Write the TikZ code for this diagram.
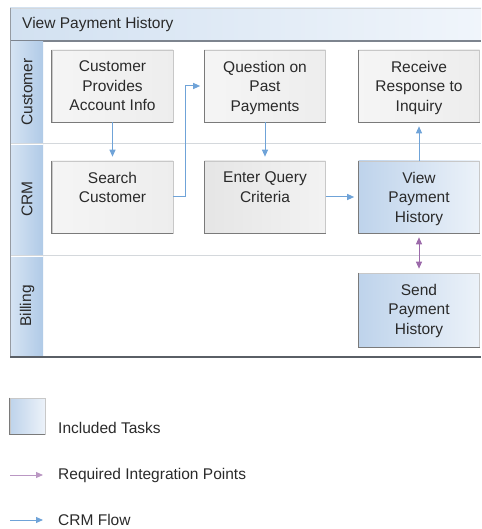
\documentclass[tikz,border=0pt]{standalone}
\usepackage{fontspec}
\setmainfont{Liberation Sans}
\usetikzlibrary{arrows.meta,calc}
\definecolor{flowblue}{HTML}{6FA3D8}
\definecolor{integ}{HTML}{9C6AAA}
\definecolor{edgegray}{HTML}{C8C8C8}
\definecolor{shadowgray}{HTML}{7A7A7A}
\definecolor{lanegray}{HTML}{D4D8DC}
\definecolor{txt}{HTML}{2A2A2A}
\tikzset{
  every node/.style={font=\fontsize{15.5}{19.5}\selectfont, text=txt},
  task/.style={draw=edgegray, line width=0.6pt, minimum width=121pt, minimum height=72pt, inner sep=0pt,
    left color=white!96!black, right color=white!93!black},
  taskdark/.style={task, left color=white!90!black, right color=white!95!black},
  incl/.style={task, left color={rgb,255:red,190;green,211;blue,235}, right color={rgb,255:red,236;green,242;blue,249}},
  tasktext/.style={align=center, inner sep=0pt, anchor=north},
  shadowedge/.style={draw=shadowgray, line width=1.2pt},
  flow/.style={draw=flowblue, line width=1pt, -{Triangle[length=7pt,width=6pt]}},
  integflow/.style={draw=integ, line width=1pt, {Triangle[length=7pt,width=6pt]}-{Triangle[length=7pt,width=6pt]}},
  lanelabel/.style={rotate=90, inner sep=0pt},
  legendtext/.style={anchor=west, inner sep=0pt},
}
\begin{document}
\begin{tikzpicture}[x=1pt,y=-1pt]
\useasboundingbox (0,0) rectangle (481,529);
% title band
\shade[left color={rgb,255:red,210;green,225;blue,241}, right color={rgb,255:red,240;green,245;blue,251}] (10,8) rectangle (481,41);
\draw[draw=lanegray, line width=0.6pt] (10,8) -- (481,8);
\draw[draw={rgb,255:red,125;green,132;blue,142}, line width=1.6pt] (10,41) -- (481,41);
\node[anchor=west, inner sep=0pt] (title) at (22,24.5) {View Payment History};
% lane column
\shade[left color={rgb,255:red,214;green,228;blue,243}, right color={rgb,255:red,176;green,202;blue,231}] (10,42) rectangle (43,357);
% lane separators
\draw[draw=lanegray, line width=0.7pt] (10,143) -- (481,143);
\draw[draw=lanegray, line width=0.7pt] (10,255) -- (481,255);
\draw[draw=white, line width=1pt] (10,144.2) -- (43,144.2);
\draw[draw=white, line width=1pt] (10,256.2) -- (43,256.2);
% frame
\draw[draw={rgb,255:red,150;green,155;blue,162}, line width=0.8pt] (10,8) -- (10,357);
\draw[draw={rgb,255:red,90;green,95;blue,102}, line width=1.5pt] (10,357) -- (481,357);
% lane labels
\node[lanelabel] (lcust) at (27,92) {Customer};
\node[lanelabel] (lcrm) at (27,199) {CRM};
\node[lanelabel] (lbill) at (27,306) {Billing};
% tasks
\node[task] (cpa) at (112.5,86) {};
\node[task] (sc) at (112.5,197) {};
\node[task] (qpp) at (265,86) {};
\node[taskdark] (eqc) at (265,197) {};
\node[task] (rri) at (419,86) {};
\node[incl] (vph) at (419,197) {};
\node[incl, minimum height=74pt] (sph) at (419,310) {};
\foreach \n in {cpa,sc,qpp,eqc,rri,vph,sph}{
  \draw[shadowedge] (\n.north west) -- (\n.south west) -- (\n.south east);
}
\node[tasktext] (tcpa) at ($(cpa.north)+(0,11)$) {Customer\\Provides\\Account Info};
\node[tasktext] (tsc) at ($(sc.north)+(0,11)$) {Search\\Customer};
\node[tasktext] (tqpp) at ($(qpp.north)+(0,11)$) {Question on\\Past\\Payments};
\node[tasktext] (teqc) at ($(eqc.north)+(0,11)$) {Enter Query\\Criteria};
\node[tasktext] (trri) at ($(rri.north)+(0,11)$) {Receive\\Response to\\Inquiry};
\node[tasktext] (tvph) at ($(vph.north)+(0,11)$) {View\\Payment\\History};
\node[tasktext] (tsph) at ($(sph.north)+(0,11)$) {Send\\Payment\\History};
% flows
\draw[flow, shorten >=4pt] (cpa.south) -- (sc.north);
\draw[flow, shorten >=4pt] (sc.east) -- ++(12,0) |- (qpp.west);
\draw[flow, shorten >=4pt] (qpp.south) -- (eqc.north);
\draw[flow, shorten >=4pt] (eqc.east) -- (vph.west);
\draw[flow, shorten >=4pt] (vph.north) -- (rri.south);
\draw[integflow, shorten >=4pt, shorten <=4pt] (vph.south) -- (sph.north);
% legend
\node[incl, minimum width=35pt, minimum height=36pt] (lg) at (27.5,416) {};
\draw[shadowedge] (lg.north west) -- (lg.south west) -- (lg.south east);
\node[legendtext] (lgt) at (58,428) {Included Tasks};
\coordinate (ia) at (10,475);
\coordinate (ib) at (43,475);
\draw[draw=integ!70, line width=1pt, -{Triangle[length=7pt,width=6pt]}] (ia) -- (ib);
\node[legendtext] (lit) at (58,475) {Required Integration Points};
\coordinate (fa) at (10,520);
\coordinate (fb) at (43,520);
\draw[flow] (fa) -- (fb);
\node[legendtext] (lft) at (58,520) {CRM Flow};
\end{tikzpicture}
\end{document}
